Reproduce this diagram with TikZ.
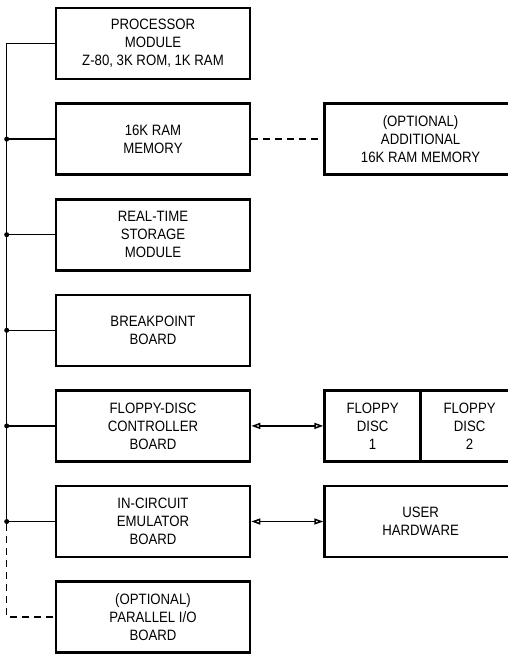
\documentclass[tikz,border=0pt]{standalone}
\usepackage{fontspec}
\setmainfont[FakeStretch=0.88]{Liberation Sans}
\usetikzlibrary{arrows.meta,positioning}
\tikzset{
  unitbox/.style={
    draw,
    line width=2.6pt,
    minimum width=194pt,
    minimum height=71pt,
    inner sep=0pt,
    align=center,
    font=\fontsize{15}{18}\selectfont
  },
  extbox/.style={
    unitbox,
    minimum width=192pt
  },
  busline/.style={
    line width=1.5pt
  },
  optline/.style={
    busline,
    dash pattern=on 7pt off 5pt
  },
  linkarrow/.style={
    busline,
    {Triangle[open,length=9pt,width=6pt]}-{Triangle[open,length=9pt,width=6pt]}
  },
  tap/.style={
    circle,
    fill,
    inner sep=0pt,
    minimum size=5pt
  }
}

\begin{document}
\begin{tikzpicture}[x=1pt, y=-1pt, node distance=22pt]
  \useasboundingbox (0,0) rectangle (508,657);
  \clip (0,0) rectangle (508,657);

  % boards on the bus
  \node[unitbox] (proc) at (153,43.5) {PROCESSOR\\MODULE\\Z-80, 3K ROM, 1K RAM};
  \node[unitbox, below=of proc] (ram) {16K RAM\\MEMORY};
  \node[unitbox, below=of ram] (rts) {REAL-TIME\\STORAGE\\MODULE};
  \node[unitbox, below=of rts] (brk) {BREAKPOINT\\BOARD};
  \node[unitbox, below=of brk] (fdc) {FLOPPY-DISC\\CONTROLLER\\BOARD};
  \node[unitbox, below=of fdc] (ice) {IN-CIRCUIT\\EMULATOR\\BOARD};
  \node[unitbox, below=of ice] (pio) {(OPTIONAL)\\PARALLEL I/O\\BOARD};

  % outside units
  \node[extbox, right=72pt of ram] (xram) {(OPTIONAL)\\ADDITIONAL\\16K RAM MEMORY};
  \node[unitbox, minimum width=96pt, right=72pt of fdc] (disc1) {FLOPPY\\DISC\\1};
  \node[unitbox, minimum width=98pt, right=-2.6pt of disc1] (disc2) {FLOPPY\\DISC\\2};
  \node[extbox, right=72pt of ice] (user) {USER\\HARDWARE};

  % bus
  \path (proc.west) ++(-48pt,0) coordinate (corner);
  \draw[busline] (proc.west) -- (corner) -- (corner |- ice.west);
  \foreach \b in {ram,rts,brk,fdc,ice} {
    \draw[busline] (corner |- \b.west) -- (\b.west);
    \node[tap] (tap-\b) at (corner |- \b.west) {};
  }
  \draw[optline] (tap-ice) -- (corner |- pio.west) -- (pio.west);

  % links
  \draw[optline] (ram) -- (xram);
  \draw[linkarrow] (fdc) -- (disc1);
  \draw[linkarrow] (ice) -- (user);
\end{tikzpicture}
\end{document}
